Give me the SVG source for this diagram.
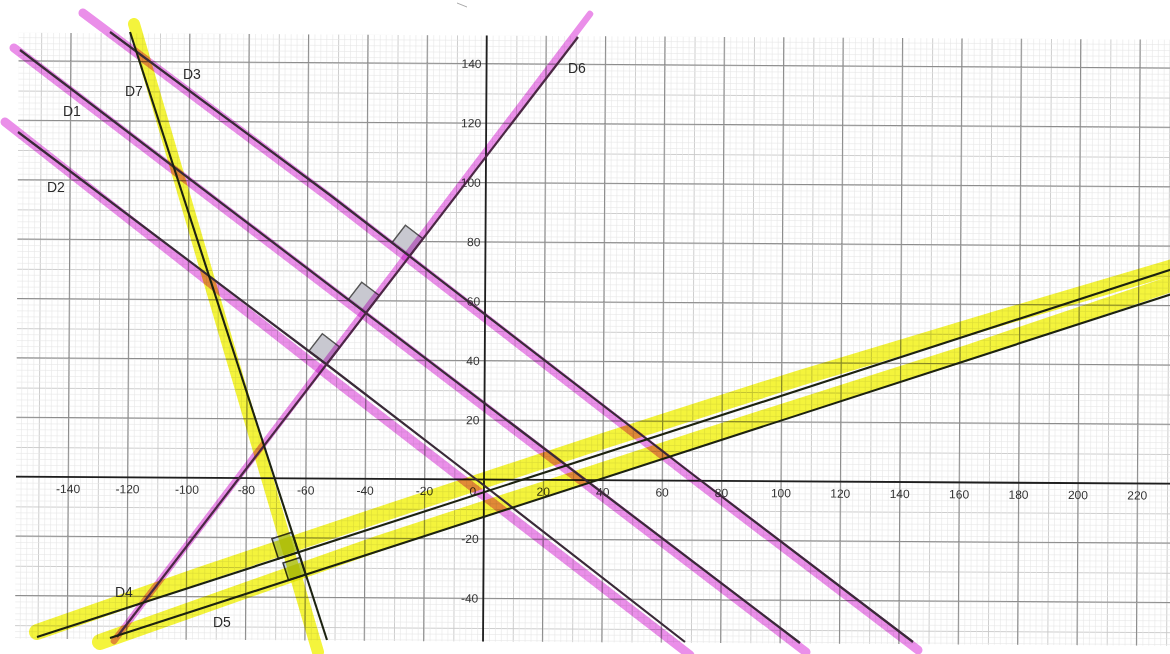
<svg xmlns="http://www.w3.org/2000/svg" width="1170" height="654" viewBox="0 0 1170 654">
<defs>
<pattern id="fine" patternUnits="userSpaceOnUse" width="29.7" height="29.7">
<rect x="0" y="0" width="0.9" height="29.7" fill="#c8c8c8"/>
<rect x="0" y="0" width="29.7" height="0.9" fill="#c8c8c8"/>
<rect x="5.94" y="0" width="0.6" height="29.7" fill="#e6e6e6"/>
<rect x="11.88" y="0" width="0.6" height="29.7" fill="#e6e6e6"/>
<rect x="17.82" y="0" width="0.6" height="29.7" fill="#e6e6e6"/>
<rect x="23.76" y="0" width="0.6" height="29.7" fill="#e6e6e6"/>
<rect x="0" y="5.94" width="29.7" height="0.6" fill="#e6e6e6"/>
<rect x="0" y="11.88" width="29.7" height="0.6" fill="#e6e6e6"/>
<rect x="0" y="17.82" width="29.7" height="0.6" fill="#e6e6e6"/>
<rect x="0" y="23.76" width="29.7" height="0.6" fill="#e6e6e6"/>
</pattern>
<style>
.maj{fill:none;stroke:#8c8c8c;stroke-width:1}
.axis{fill:none;stroke:#1e1e1e;stroke-width:1.8}
.tick{font-family:"Liberation Sans",Arial,sans-serif;font-size:12px;fill:#333}
.lbl{font-family:"Liberation Sans",Arial,sans-serif;font-size:14px;fill:#2a2a2a}
.pink{fill:none;stroke:#ea8fe9;stroke-width:9;stroke-linecap:round;stroke-linejoin:round;mix-blend-mode:multiply}
.yel{fill:none;stroke:#f4f43c;stroke-linecap:round;stroke-linejoin:round;mix-blend-mode:multiply}
.ink{fill:none;stroke:#3a2a38;stroke-width:2.2;stroke-linejoin:round}
.inkg{fill:none;stroke:#1c2210;stroke-width:2.1}
.mark{fill:#c8c8d0;stroke:#555;stroke-width:1.4}
.markg{fill:#c2d2e2;stroke:#333;stroke-width:1.5}
</style>
</defs>
<rect width="1170" height="654" fill="#ffffff"/>
<path d="M457,3 L467,7" stroke="#aaa" stroke-width="1"/>

<g id="grid" transform="translate(484,479.5) rotate(0.35)">
<rect x="-468" y="-444" width="1170" height="606" fill="url(#fine)"/>
<path class="maj" d="M-415.8-444V162M-356.4-444V162M-297-444V162M-237.6-444V162M-178.2-444V162M-118.8-444V162M-59.4-444V162M59.4-444V162M118.8-444V162M178.2-444V162M237.6-444V162M297-444V162M356.4-444V162M415.8-444V162M475.2-444V162M534.6-444V162M594-444V162M653.4-444V162M-468,118.8H702M-468,59.4H702M-468-59.4H702M-468-118.8H702M-468-178.2H702M-468-237.6H702M-468-297H702M-468-356.4H702M-468-415.8H702"/>
<path id="axes" class="axis" d="M-468,0H702M0-444V162"/>
<g id="x-ticks" class="tick" text-anchor="middle">
<text x="-415.8" y="16">-140</text>
<text x="-356.4" y="16">-120</text>
<text x="-297" y="16">-100</text>
<text x="-237.6" y="16">-80</text>
<text x="-178.2" y="16">-60</text>
<text x="-118.8" y="16">-40</text>
<text x="-59.4" y="16">-20</text>
<text x="-11" y="16">0</text>
<text x="59.4" y="16">20</text>
<text x="118.8" y="16">40</text>
<text x="178.2" y="16">60</text>
<text x="237.6" y="16">80</text>
<text x="297" y="16">100</text>
<text x="356.4" y="16">120</text>
<text x="415.8" y="16">140</text>
<text x="475.2" y="16">160</text>
<text x="534.6" y="16">180</text>
<text x="594" y="16">200</text>
<text x="653.4" y="16">220</text>
</g>
<g id="y-ticks" class="tick" text-anchor="end">
<text x="-5" y="-411.5">140</text>
<text x="-5" y="-352.1">120</text>
<text x="-5" y="-292.7">100</text>
<text x="-5" y="-233.3">80</text>
<text x="-5" y="-173.9">60</text>
<text x="-5" y="-114.5">40</text>
<text x="-5" y="-55.1">20</text>
<text x="-5" y="63.7">-20</text>
<text x="-5" y="123.1">-40</text>
</g>
</g>

<g id="right-angles">
<polygon class="mark" points="409.5,256 392,242.7 405.4,225.3 422.9,238.6"/>
<polygon class="mark" points="365.8,312.9 348.3,299.6 361.7,282.2 379.2,295.5"/>
<polygon class="mark" points="326.4,364.4 308.9,351.1 322.3,333.7 339.8,347.1"/>
<polygon class="markg" points="298.4,552.3 278.4,558.8 271.9,538.8 291.9,532.3"/>
<polygon class="markg" points="305.6,574.6 288.5,580.1 283,563 300.1,557.5"/>
</g>

<g id="highlights">
<polyline class="pink" points="83,13 330,198 700,484 918,650"/>
<polyline class="pink" points="14,48 806,652"/>
<polyline class="pink" points="5,122 330,377 690,655"/>
<polyline class="pink" style="stroke-width:6.5" points="114,641 590,14"/>
<polyline class="yel" style="stroke-width:12" points="134,24 318,652"/>
<polyline class="yel" style="stroke-width:16" points="37,632 200,575 400,508 600,442 800,378 1000,318 1180,265"/>
<polyline class="yel" style="stroke-width:16" points="100,642 380,543 713,434 970,352 1180,281"/>
</g>

<g id="lines">
<polyline id="D3" class="ink" points="110,32 330,195 700,480 913,642"/>
<polyline id="D1" class="ink" points="20,50 800,643"/>
<polyline id="D2" class="ink" points="18,132 330,367 477,480 685,642"/>
<polyline id="D6" class="ink" style="stroke:#4b2744" points="117,637 578,37"/>
<polyline id="D7" class="inkg" points="130,32 327,640"/>
<polyline id="D4" class="inkg" points="37,637 1172,269.3"/>
<polyline id="D5" class="inkg" points="110,638 1172,293.9"/>
</g>

<g id="labels" class="lbl">
<text x="183" y="79">D3</text>
<text x="125" y="96">D7</text>
<text x="63" y="116">D1</text>
<text x="47" y="192">D2</text>
<text x="568" y="73">D6</text>
<text x="115" y="597">D4</text>
<text x="213" y="627">D5</text>
</g>
</svg>
